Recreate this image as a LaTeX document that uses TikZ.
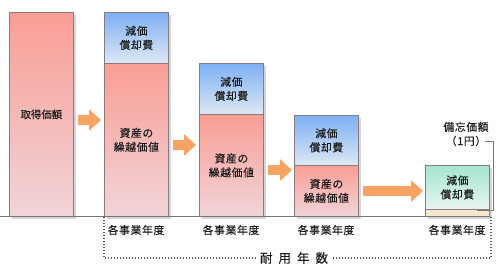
\documentclass[tikz,border=0pt]{standalone}
\usepackage{fontspec}
\newfontfamily\jp[FakeBold=0.35]{Noto Sans CJK JP}
\newfontfamily\jpls[LetterSpace=6,FakeBold=0.35]{Noto Sans CJK JP}
\usetikzlibrary{arrows.meta,shadows}
\definecolor{edgec}{HTML}{8A7C7E}
\definecolor{redT}{HTML}{F99E94}
\definecolor{redB}{HTML}{F1D4D9}
\definecolor{blueT}{HTML}{7EB0F6}
\definecolor{blueB}{HTML}{DDE8F2}
\definecolor{greenT}{HTML}{A4E5D2}
\definecolor{greenB}{HTML}{E8F5EF}
\definecolor{beige}{HTML}{F4E7D0}
\definecolor{arrowc}{HTML}{F6A363}
\definecolor{linec}{HTML}{777777}
\definecolor{dotc}{HTML}{5A5A5A}
\definecolor{txt}{HTML}{1E1E1E}
\begin{document}
\begin{tikzpicture}[x=1pt,y=-1pt,
  bar/.style={draw=edgec, line width=0.8pt, inner sep=0pt, anchor=north west,
    minimum width=64pt, align=center, text=txt,
    font=\jpls\fontsize{10.8}{14}\selectfont,
    drop shadow={shadow xshift=3pt, shadow yshift=-3pt, fill=black, opacity=0.16}},
  bluebar/.style={bar, top color=blueT, bottom color=blueB},
  redbar/.style={bar, top color=redT, bottom color=redB},
  greenbar/.style={bar, top color=greenT, bottom color=greenB},
  arr/.style={draw=arrowc, line width=10pt, -{Triangle[width=21pt,length=12pt]}},
  lbl/.style={font=\jpls\fontsize{10.8}{14}\selectfont, text=txt, align=center},
  dotline/.style={draw=dotc, line width=1.4pt, dash pattern=on 1.4pt off 1.6pt},
]
\useasboundingbox (0,0) rectangle (500,269);

% bars
\node[redbar, minimum height=204pt] (b1) at (9,12) {\jp\fontsize{10.4}{14}\selectfont 取得価額};

\node[bluebar, minimum height=51pt] (b2t) at (104,12) {減価\\償却費};
\node[redbar, minimum height=153pt] (b2b) at (104,63) {資産の\\繰越価値};

\node[bluebar, minimum height=51pt] (b3t) at (199,63) {減価\\償却費};
\node[redbar, minimum height=102pt] (b3b) at (199,114) {資産の\\繰越価値};

\node[bluebar, minimum height=50pt] (b4t) at (294,115) {減価\\償却費};
\node[redbar, minimum height=51pt] (b4b) at (294,165) {資産の\\繰越価値};

\node[greenbar, minimum height=44pt] (b5t) at (425,165) {減価\\償却費};
\node[bar, fill=beige, minimum height=7pt] (b5b) at (425,209) {};

% arrows
\coordinate (a1s) at (78,120);  \coordinate (a1e) at (101,120);
\coordinate (a2s) at (173,145); \coordinate (a2e) at (196,145);
\coordinate (a3s) at (268,170); \coordinate (a3e) at (292,170);
\coordinate (a4s) at (363,191); \coordinate (a4e) at (423,191);
\draw[arr] (a1s) -- (a1e);
\draw[arr] (a2s) -- (a2e);
\draw[arr] (a3s) -- (a3e);
\draw[arr] (a4s) -- (a4e);

% base line
\coordinate (bl0) at (0,216); \coordinate (bl1) at (490,216);
\draw[linec, line width=0.9pt] (bl0) -- (bl1);

% year labels
\node[lbl] (y2) at (136,230) {各事業年度};
\node[lbl] (y3) at (231,230) {各事業年度};
\node[lbl] (y4) at (326,230) {各事業年度};
\node[lbl] (y5) at (457,230) {各事業年度};

% memo value and bracket
\node[lbl] (memo) at (466,134) {備忘価額\\（1円）};
\coordinate (m1) at (485,141); \coordinate (m2) at (493,141);
\coordinate (m3) at (493,210); \coordinate (m4) at (477,210);
\draw[linec, line width=0.8pt] (m1) -- (m2) -- (m3) -- (m4);

% useful life
\coordinate (d1) at (104,217); \coordinate (d2) at (104,258);
\coordinate (d3) at (491,258); \coordinate (d4) at (491,217);
\draw[dotline] (d1) -- (d2) -- (d3) -- (d4);
\node[fill=white, inner sep=4pt, text=txt, font=\jp\fontsize{12.5}{14}\selectfont] (life) at (294,258)
  {耐\hspace{6pt}用\hspace{6pt}年\hspace{6pt}数};
\end{tikzpicture}
\end{document}
